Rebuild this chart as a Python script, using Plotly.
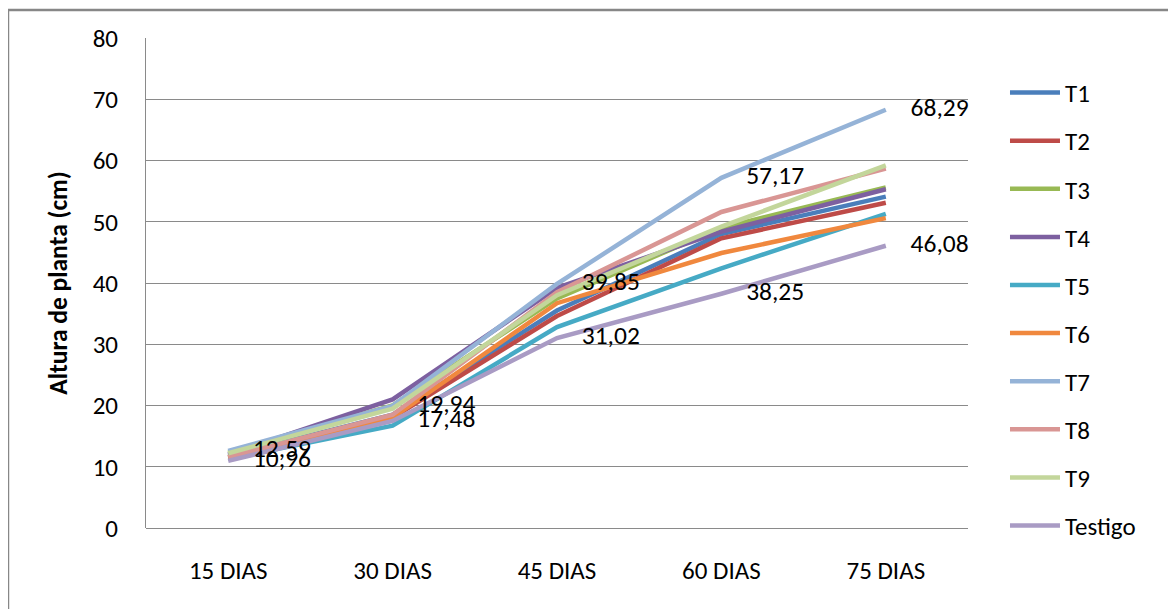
import plotly.graph_objects as go

categories = ["15 DIAS", "30 DIAS", "45 DIAS", "60 DIAS", "75 DIAS"]
series_names = ["T1", "T2", "T3", "T4", "T5", "T6", "T7", "T8", "T9", "Testigo"]
T1 = [11.8, 18.5, 35.5, 48.0, 54.1]
T2 = [11.5, 18.0, 34.6, 47.3, 53.1]
T3 = [12.3, 20.0, 37.5, 49.0, 55.6]
T4 = [12.0, 21.0, 39.2, 48.4, 55.3]
T5 = [11.3, 16.7, 32.8, 42.4, 51.3]
T6 = [11.5, 18.0, 36.7, 44.9, 50.6]
T7 = [12.59, 19.94, 39.85, 57.17, 68.29]
T8 = [11.6, 18.5, 38.5, 51.6, 58.7]
T9 = [12.2, 19.5, 38.0, 49.2, 59.2]
Testigo = [10.96, 17.48, 31.02, 38.25, 46.08]
series_values = [T1, T2, T3, T4, T5, T6, T7, T8, T9, Testigo]
labelled = ["T7", "Testigo"]
colors = ["#4A7EBB", "#BE4B48", "#98B954", "#7D60A0", "#46AAC5",
          "#F0883E", "#95B3D7", "#D99694", "#C3D69B", "#A99BC4"]
y_ticks = [0, 10, 20, 30, 40, 50, 60, 70, 80]

FONT = "Carlito, Calibri, Lato, sans-serif"

fig = go.Figure()
for name, vals, col in zip(series_names, series_values, colors):
    fig.add_trace(go.Scatter(
        x=categories, y=vals, name=name, legendgroup=name, mode="lines",
        line=dict(color=col, width=4.5), cliponaxis=False,
    ))
for name, vals in zip(series_names, series_values):
    if name in labelled:
        fig.add_trace(go.Scatter(
            x=categories, y=vals, name=name, showlegend=False, hoverinfo="skip",
            mode="markers+text",
            marker=dict(size=38, color="rgba(0,0,0,0)"),
            text=[f"{v:.2f}".replace(".", ",") for v in vals],
            textposition="middle right",
            textfont=dict(size=25.5, color="#000000", family=FONT),
            cliponaxis=False,
        ))

fig.update_layout(
    width=1168, height=601,
    margin=dict(l=138, r=208, t=30, b=81),
    paper_bgcolor="white", plot_bgcolor="white",
    font=dict(family=FONT, size=25, color="#000000"),
    showlegend=True,
    legend=dict(x=1.045, xanchor="left", y=0.935, yanchor="top",
                font=dict(size=25, family=FONT), tracegroupgap=12.6,
                traceorder="grouped", itemwidth=50, bgcolor="rgba(0,0,0,0)"),
    xaxis=dict(range=[-0.5, len(categories) - 0.5], showgrid=False,
               showline=False, zeroline=False, ticks="",
               automargin=False, ticklabelstandoff=25, tickfont=dict(size=25)),
    yaxis=dict(range=[0, 80], tickvals=y_ticks, showgrid=True, automargin=False,
               gridcolor="#8A8A8A", gridwidth=1, showline=True,
               linecolor="#8A8A8A", linewidth=1, zeroline=True,
               zerolinecolor="#8A8A8A", zerolinewidth=1, ticks="",
               ticklabelstandoff=22, tickfont=dict(size=25),
               title=dict(text="<b>Altura de planta (cm)</b>", standoff=17,
                          font=dict(size=25.5))),
    shapes=[dict(type="rect", xref="paper", yref="paper",
                 x0=-0.1679, x1=1.2494, y0=-0.175, y1=1.0571,
                 line=dict(color="#878787", width=2.5), fillcolor="rgba(0,0,0,0)",
                 layer="below")],
)

fig.write_html("out.html")
